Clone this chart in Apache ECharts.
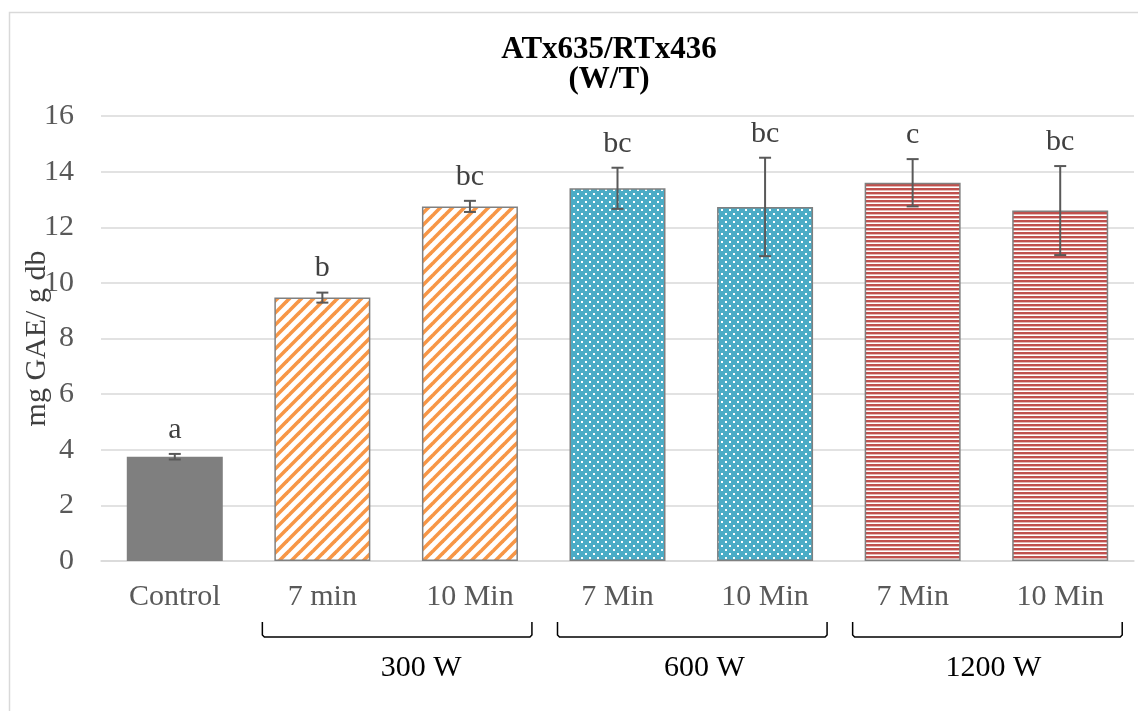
<!DOCTYPE html>
<html>
<head>
<meta charset="utf-8">
<script src="https://cdn.jsdelivr.net/npm/echarts@6/dist/echarts.min.js"></script>
<style>html,body{margin:0;padding:0;background:#fff;}#c{width:1138px;height:711px;}</style>
</head>
<body>
<div id="c"></div>
<script>
var categories = ['Control', '7 min', '10 Min', '7 Min', '10 Min', '7 Min', '10 Min'];
var values = [3.75, 9.47, 12.75, 13.4, 12.73, 13.6, 12.6];
var errors = [0.1, 0.18, 0.2, 0.74, 1.77, 0.85, 1.6];
var letters = ['a', 'b', 'bc', 'bc', 'bc', 'c', 'bc'];
var fillKinds = ['solid', 'diag', 'diag', 'dots', 'dots', 'hstripe', 'hstripe'];
var groupNames = ['300 W', '600 W', '1200 W'];
var groupStart = [1, 3, 5];
var groupEnd = [2, 4, 6];
var yTicks = [0, 2, 4, 6, 8, 10, 12, 14, 16];
var yTitle = 'mg GAE/ g db';

var groupLabelShift = [24, 12, 6];

function makeCanvas(w, h, draw) {
  var c = document.createElement('canvas');
  c.width = w; c.height = h;
  var ctx = c.getContext('2d');
  draw(ctx, w, h);
  return c;
}
var diagCanvas = makeCanvas(12, 12, function (ctx, w, h) {
  ctx.fillStyle = '#ffffff'; ctx.fillRect(0, 0, w, h);
  ctx.strokeStyle = '#F79646'; ctx.lineWidth = 3.6;
  for (var k = -2; k <= 2; k++) {
    ctx.beginPath();
    ctx.moveTo(k * w - 2, h + 2);
    ctx.lineTo(k * w + w + 2, -2);
    ctx.stroke();
  }
});
var dotsCanvas = makeCanvas(8, 8, function (ctx, w, h) {
  ctx.fillStyle = '#4BACC6'; ctx.fillRect(0, 0, w, h);
  ctx.fillStyle = '#ffffff';
  ctx.fillRect(1, 1, 2, 2);
  ctx.fillRect(5, 5, 2, 2);
});
var hCanvas = makeCanvas(4, 4, function (ctx, w, h) {
  ctx.fillStyle = '#ffffff'; ctx.fillRect(0, 0, w, h);
  ctx.fillStyle = '#C0504D'; ctx.fillRect(0, 0, w, 2.4);
});
function fillFor(kind) {
  if (kind === 'diag') return { image: diagCanvas, repeat: 'repeat' };
  if (kind === 'dots') return { image: dotsCanvas, repeat: 'repeat' };
  if (kind === 'hstripe') return { image: hCanvas, repeat: 'repeat' };
  return '#7F7F7F';
}

var barData = values.map(function (v, i) {
  var solid = fillKinds[i] === 'solid';
  return {
    value: v,
    itemStyle: {
      color: fillFor(fillKinds[i]),
      borderColor: solid ? '#7F7F7F' : '#808080',
      borderWidth: solid ? 0 : 1.5
    }
  };
});
var errData = values.map(function (v, i) { return [i, v, errors[i]]; });

var FONT = '"Liberation Serif", "Times New Roman", serif';
var chart = echarts.init(document.getElementById('c'));
chart.setOption({
  animation: false,
  backgroundColor: '#ffffff',
  title: {
    text: 'ATx635/RTx436\n(W/T)',
    left: 604, textAlign: 'center', top: 30,
    textStyle: { fontFamily: FONT, fontWeight: 'bold', fontSize: 31, color: '#000', lineHeight: 30 }
  },
  grid: { left: 101, right: 4, top: 116, bottom: 150, containLabel: false, outerBoundsMode: 'none' },
  xAxis: {
    type: 'category', data: categories,
    axisLine: { lineStyle: { color: '#D9D9D9', width: 1.5 } },
    axisTick: { show: false },
    axisLabel: { fontFamily: FONT, fontSize: 30, color: '#595959', margin: 21 }
  },
  yAxis: {
    type: 'value', min: 0, max: 16, interval: 2,
    axisLine: { show: false }, axisTick: { show: false },
    axisLabel: { fontFamily: FONT, fontSize: 30, color: '#595959', margin: 27 },
    splitLine: { lineStyle: { color: '#D9D9D9', width: 1.5 } }
  },
  series: [
    { type: 'bar', data: barData, barWidth: 96 },
    {
      type: 'custom', data: errData, z: 10,
      renderItem: function (params, api) {
        var x = api.value(0), v = api.value(1), e = api.value(2);
        var top = api.coord([x, v + e]);
        var bot = api.coord([x, v - e]);
        var cap = 6;
        var st = { stroke: '#595959', lineWidth: 2 };
        return {
          type: 'group',
          children: [
            { type: 'line', shape: { x1: top[0], y1: top[1], x2: bot[0], y2: bot[1] }, style: st },
            { type: 'line', shape: { x1: top[0] - cap, y1: top[1], x2: top[0] + cap, y2: top[1] }, style: st },
            { type: 'line', shape: { x1: bot[0] - cap, y1: bot[1], x2: bot[0] + cap, y2: bot[1] }, style: st },
            { type: 'text', style: { text: letters[params.dataIndex], x: top[0], y: top[1] - 9, textAlign: 'center', textVerticalAlign: 'bottom', fontFamily: FONT, fontSize: 30, fill: '#404040' } }
          ]
        };
      }
    }
  ]
});

function drawGroups() {
  var elems = [{
    type: 'rect', shape: { x: 9.5, y: 12.5, width: 1140, height: 720 },
    style: { fill: 'none', stroke: '#D9D9D9', lineWidth: 1.5 }, silent: true, z: -10
  }];
  var mid = chart.convertToPixel({ yAxisIndex: 0 }, (yTicks[0] + yTicks[yTicks.length - 1]) / 2);
  elems.push({
    type: 'text', x: 37, y: mid, rotation: Math.PI / 2,
    style: { text: yTitle, x: 0, y: 0, textAlign: 'center', textVerticalAlign: 'middle', fontFamily: FONT, fontSize: 30, fill: '#404040' }
  });
  groupNames.forEach(function (name, g) {
    var a = chart.convertToPixel({ seriesIndex: 0 }, [groupStart[g], 0]);
    var b = chart.convertToPixel({ seriesIndex: 0 }, [groupEnd[g], 0]);
    var x1 = a[0] - 60, x2 = b[0] + 62;
    var yTop = a[1] + 61, yBot = a[1] + 76;
    elems.push({
      type: 'polyline',
      shape: { points: [[x1, yTop], [x1, yBot - 2], [x1 + 2, yBot], [x2 - 2, yBot], [x2, yBot - 2], [x2, yTop]] },
      style: { stroke: '#000', lineWidth: 1.5, fill: 'none' }
    });
    elems.push({
      type: 'text',
      style: { text: name, x: (x1 + x2) / 2 + groupLabelShift[g], y: a[1] + 107, textAlign: 'center', textVerticalAlign: 'middle', fontFamily: FONT, fontSize: 30, fill: '#000' }
    });
  });
  chart.setOption({ graphic: elems });
}
drawGroups();
</script>
</body>
</html>
